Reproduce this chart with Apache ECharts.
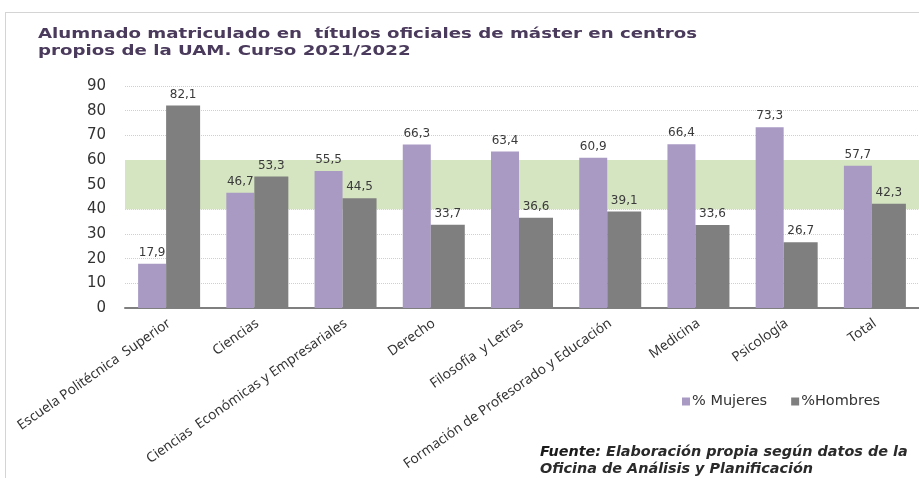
<!DOCTYPE html>
<html>
<head>
<meta charset="utf-8">
<script src="https://cdn.jsdelivr.net/npm/echarts@6/dist/echarts.min.js"></script>
<style>html,body{margin:0;padding:0;background:#fff;}#c{width:919px;height:478px;}</style>
</head>
<body>
<div id="c"></div>
<script>
const categories = ['Escuela Politécnica  Superior', 'Ciencias', 'Ciencias  Económicas y Empresariales', 'Derecho', 'Filosofía  y Letras', 'Formación de Profesorado y Educación', 'Medicina', 'Psicología', 'Total'];
const mujeres = [17.9, 46.7, 55.5, 66.3, 63.4, 60.9, 66.4, 73.3, 57.7];
const hombres = [82.1, 53.3, 44.5, 33.7, 36.6, 39.1, 33.6, 26.7, 42.3];
const yTicks = { min: 0, max: 90, interval: 10 };
const band = [40, 60];
const titleText = 'Alumnado matriculado en  títulos oficiales de máster en centros\npropios de la UAM. Curso 2021/2022';

const chart = echarts.init(document.getElementById('c'), null, { renderer: 'canvas' });
const fmt = p => String(p.value).replace('.', ',');
const labelStyle = { show: true, position: 'top', distance: 5, fontFamily: 'DejaVu Sans', fontSize: 12, color: '#3a3a3a', formatter: fmt };

chart.setOption({
  animation: false,
  backgroundColor: '#ffffff',
  title: [
    {
      text: '{b|Fuente:} {i|Elaboración propia según datos de la}\n{i|Oficina de Análisis y Planificación}',
      left: 535, top: 438,
      textStyle: {
        rich: {
          b: { fontFamily: 'DejaVu Sans', fontSize: 14.4, fontWeight: 'bold', fontStyle: 'italic', color: '#1a1a1a', lineHeight: 17 },
          i: { fontFamily: 'DejaVu Sans', fontSize: 14.4, fontStyle: 'italic', color: '#2a2a2a', lineHeight: 17 }
        }
      }
    }
  ],
  graphic: [
    { type: 'line', shape: { x1: 5, y1: 12.5, x2: 919, y2: 12.5 }, style: { stroke: '#d4d4d4', lineWidth: 1 } },
    { type: 'line', shape: { x1: 5.5, y1: 12, x2: 5.5, y2: 478 }, style: { stroke: '#d4d4d4', lineWidth: 1 } },
    {
      type: 'text', x: 38, y: 26, scaleX: 1.3, scaleY: 1,
      style: { text: titleText, font: 'bold 14px "DejaVu Sans"', fill: '#4a3a5c', lineHeight: 17 }
    }
  ],
  legend: {
    data: ['% Mujeres', '%Hombres'],
    left: 677, top: 389,
    icon: 'rect', itemWidth: 8, itemHeight: 8, itemGap: 24,
    textStyle: { fontFamily: 'DejaVu Sans', fontSize: 14.5, color: '#333', padding: [0, 0, 0, -3] }
  },
  grid: { left: 125, top: 86, width: 795, height: 222, containLabel: false },
  xAxis: {
    type: 'category',
    data: categories,
    axisLine: { show: true, lineStyle: { color: '#7f7f7f', width: 2 } },
    axisTick: { show: false },
    axisLabel: { interval: 0, rotate: 35, margin: 14, fontFamily: 'Noto Sans', fontSize: 13.7, color: '#333' }
  },
  yAxis: {
    type: 'value',
    min: yTicks.min, max: yTicks.max, interval: yTicks.interval,
    axisLine: { show: false },
    axisTick: { show: false },
    axisLabel: { margin: 19, fontFamily: 'DejaVu Sans', fontSize: 15, color: '#333' },
    splitLine: { show: true, lineStyle: { color: '#cfcfcf', type: 'dotted', width: 1 } }
  },
  series: [
    {
      name: 'band', type: 'line', data: [], z: 1, silent: true,
      markArea: {
        silent: true,
        itemStyle: { color: '#d5e5c1' },
        data: [[{ yAxis: band[0] }, { yAxis: band[1] }]]
      }
    },
    {
      name: '% Mujeres', type: 'bar', data: mujeres, z: 3,
      barWidth: 28, barGap: '0%',
      itemStyle: { color: '#a99ac4' },
      label: labelStyle
    },
    {
      name: '%Hombres', type: 'bar', data: hombres, z: 3,
      barWidth: 34, barGap: '0%',
      itemStyle: { color: '#7f7f7f' },
      label: labelStyle
    }
  ]
});
</script>
</body>
</html>
